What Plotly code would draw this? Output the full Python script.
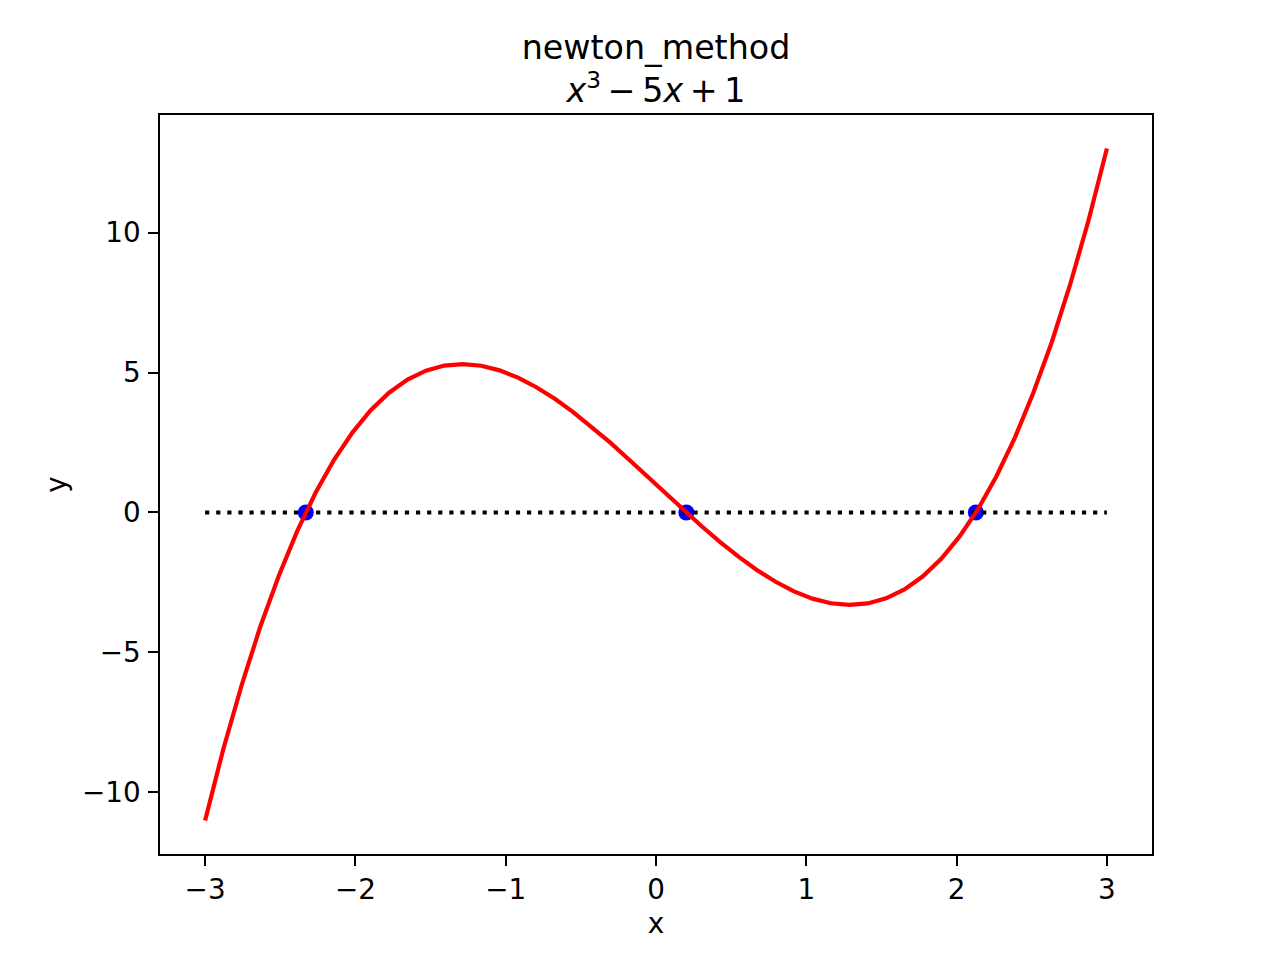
import plotly.graph_objects as go

# sample points of the curve (50 points from -3 to 3)
x_vals = [-3.000, -2.878, -2.755, -2.633, -2.510, -2.388, -2.265, -2.143, -2.020, -1.898,
          -1.776, -1.653, -1.531, -1.408, -1.286, -1.163, -1.041, -0.918, -0.796, -0.673,
          -0.551, -0.429, -0.306, -0.184, -0.061, 0.061, 0.184, 0.306, 0.429, 0.551,
          0.673, 0.796, 0.918, 1.041, 1.163, 1.286, 1.408, 1.531, 1.653, 1.776,
          1.898, 2.020, 2.143, 2.265, 2.388, 2.510, 2.633, 2.755, 2.878, 3.000]
y_vals = [-11.000, -8.439, -6.137, -4.083, -2.266, -0.675, 0.702, 1.875, 2.855, 3.653,
          4.280, 4.748, 5.067, 5.249, 5.303, 5.242, 5.077, 4.817, 4.475, 4.062,
          3.588, 3.064, 2.502, 1.912, 1.306, 0.694, 0.088, -0.502, -1.064, -1.588,
          -2.062, -2.475, -2.817, -3.077, -3.242, -3.303, -3.249, -3.067, -2.748, -2.280,
          -1.653, -0.855, 0.125, 1.298, 2.675, 4.266, 6.083, 8.137, 10.439, 13.000]

# roots found by newton's method
root_x = [-2.330, 0.202, 2.128]
root_y = [0, 0, 0]

# zero reference line
zero_x = [-3, 3]
zero_y = [0, 0]

x_ticks = [-3, -2, -1, 0, 1, 2, 3]
y_ticks = [-10, -5, 0, 5, 10]

font_name = "DejaVu Sans"

fig = go.Figure()

#roots go first so the lines sit on top like in matplotlib
fig.add_trace(go.Scatter(x=root_x, y=root_y, mode='markers',
                         marker=dict(color='#0000ff', size=16, line=dict(width=0)),
                         showlegend=False))
fig.add_trace(go.Scatter(x=zero_x, y=zero_y, mode='lines',
                         line=dict(color='black', width=4.2, dash='4.2px,6.9px'),
                         showlegend=False))
fig.add_trace(go.Scatter(x=x_vals, y=y_vals, mode='lines',
                         line=dict(color='#ff0000', width=4.2),
                         showlegend=False))

axis_style = dict(showgrid=False, zeroline=False, showline=True, mirror=True,
                  linecolor='black', linewidth=2.2, ticks='outside', ticklen=9.7,
                  tickwidth=2.2, tickcolor='black',
                  tickfont=dict(family=font_name, size=27.8, color='black'))

fig.update_xaxes(range=[-3.3, 3.3], tickvals=x_ticks, ticklabelstandoff=0,
                 title=dict(text='x', font=dict(family=font_name, size=27.8, color='black'),
                            standoff=8),
                 **axis_style)
fig.update_yaxes(range=[-12.2, 14.2], tickvals=y_ticks, ticklabelstandoff=2,
                 title=dict(text='y', font=dict(family=font_name, size=27.8, color='black'),
                            standoff=7),
                 **axis_style)

#the page is offset by the body margin, so margins are shifted to compensate
fig.update_layout(
    width=1280, height=960,
    margin=dict(l=152, r=136, t=107, b=114),
    plot_bgcolor='white', paper_bgcolor='white',
    font=dict(family=font_name, color='black'),
    title=dict(text='newton_method<br><i>x</i><sup>3</sup>\u2009−\u20095<i>x</i>\u2009+\u20091',
               x=648 / 1280, xanchor='center', xref='container',
               y=1 - 51 / 960, yanchor='bottom', yref='container',
               font=dict(family=font_name, size=33.3, color='black')),
)

fig.write_html("out.html")
